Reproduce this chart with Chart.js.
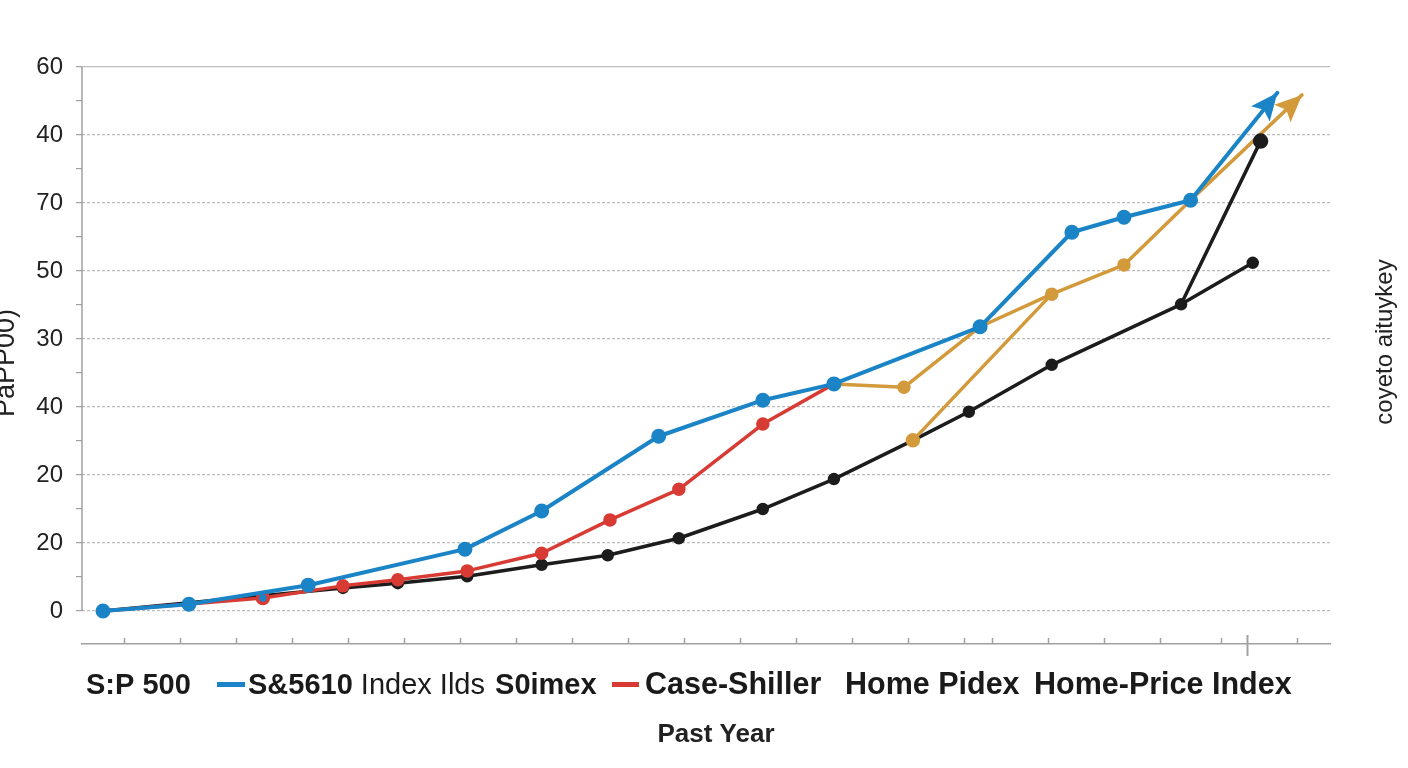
<!DOCTYPE html>
<html>
<head>
<title>Home price index vs S&amp;P 500</title>
<script src="https://cdn.jsdelivr.net/npm/chart.js"></script>
<style>
  body { margin: 0; background: #fff; }
  #wrap { width: 1408px; height: 768px; position: relative; }
</style>
</head>
<body>
<div id="wrap"><canvas id="myChart"></canvas></div>
<script>
// tick labels of the y axis, from bottom (0) to top (8)
const yTickLabels = ['0', '20', '20', '40', '30', '50', '70', '40', '60'];
// small tick marks along the bottom axis
const xTickValues = [1, 2, 3, 4, 5, 6, 7, 8, 9, 10, 11, 12, 13, 14, 15, 16, 16.5, 17.5, 18.5, 19.5, 20.6, 21.05, 21.95];
const xLongTick = 21.05;

// S&P 500 (blue)
const sp500X = [0.625, 2.16, 4.29, 7.09, 8.46, 10.55, 12.41, 13.68, 16.29, 17.93, 18.86, 20.05, 21.6];
const sp500Y = [0, 0.10, 0.38, 0.91, 1.47, 2.57, 3.10, 3.34, 4.18, 5.57, 5.79, 6.04, 7.62];

// Case-Shiller (red)
const caseShillerX = [0.625, 3.48, 4.91, 5.89, 7.13, 8.46, 9.68, 10.91, 12.41, 13.68];
const caseShillerY = [0, 0.19, 0.37, 0.46, 0.59, 0.85, 1.34, 1.79, 2.75, 3.34];

// Home Pidex (black) + its spike
const homePidexX = [0.625, 4.91, 5.89, 7.13, 8.46, 9.64, 10.91, 12.41, 13.68, 15.09, 16.09, 17.57, 19.88, 21.16];
const homePidexY = [0, 0.34, 0.41, 0.51, 0.68, 0.82, 1.07, 1.50, 1.94, 2.51, 2.93, 3.62, 4.51, 5.12];
const pidexSpikeX = [19.88, 21.30];
const pidexSpikeY = [4.51, 6.91];

// Home-Price Index (gold) + its branch
const homePriceX = [13.68, 14.93, 16.29, 17.57, 18.86, 20.05, 22.04];
const homePriceY = [3.34, 3.29, 4.18, 4.66, 5.09, 6.04, 7.59];
const priceBranchX = [15.09, 17.57];
const priceBranchY = [2.51, 4.66];

const legendLabels = ['S:P 500', 'S&5610', 'Index Ilds', 'S0imex', 'Case-Shiller', 'Home Pidex', 'Home-Price Index'];
const xTitle = 'Past Year';
const yTitleLeft = 'PaPP00)';
const yTitleRight = 'coyeto aituykey';

const BLUE = '#1b84c6', RED = '#d83b34', BLACK = '#1c1c1c', GOLD = '#d39a3c';
const FONT = '"Liberation Sans", Arial, sans-serif';

function pts(xs, ys) {
  return xs.map((x, i) => ({ x: x, y: ys[i] }));
}

// draws arrowheads, the left axis, the inside ticks, the legend and side titles
const decorPlugin = {
  id: 'decor',
  beforeDatasetsDraw(chart) {
    const ctx = chart.ctx;
    const area = chart.chartArea;
    const xs = chart.scales.x, ys = chart.scales.y;
    ctx.save();
    ctx.strokeStyle = '#a0a0a0';
    ctx.lineWidth = 1.5;
    ctx.beginPath();
    ctx.moveTo(area.left, ys.getPixelForValue(8));
    ctx.lineTo(area.left, ys.getPixelForValue(0));
    ctx.stroke();
    xTickValues.forEach(v => {
      const px = Math.round(xs.getPixelForValue(v)) + 0.5;
      ctx.beginPath();
      if (v === xLongTick) {
        ctx.lineWidth = 2;
        ctx.moveTo(px, area.bottom - 9);
        ctx.lineTo(px, area.bottom + 12);
      } else {
        ctx.lineWidth = 1.5;
        ctx.moveTo(px, area.bottom - 6);
        ctx.lineTo(px, area.bottom);
      }
      ctx.stroke();
    });
    ctx.restore();
  },
  afterDatasetsDraw(chart) {
    const ctx = chart.ctx;
    chart.data.datasets.forEach((ds, i) => {
      if (!ds.arrow) return;
      const d = chart.getDatasetMeta(i).data;
      const a = d[d.length - 2], b = d[d.length - 1];
      const ang = Math.atan2(b.y - a.y, b.x - a.x);
      const len = 27, half = 12;
      ctx.save();
      ctx.translate(b.x, b.y);
      ctx.rotate(ang);
      ctx.fillStyle = ds.borderColor;
      ctx.beginPath();
      ctx.moveTo(0, 0);
      ctx.lineTo(-len, -half);
      ctx.lineTo(-len * 0.8, 0);
      ctx.lineTo(-len, half);
      ctx.closePath();
      ctx.fill();
      ctx.restore();
    });
  },
  afterDraw(chart) {
    const ctx = chart.ctx;
    ctx.save();
    ctx.fillStyle = '#1a1a1a';
    ctx.textBaseline = 'alphabetic';
    ctx.textAlign = 'left';
    const base = 694;
    const bold = 'bold 29px ' + FONT, reg = '29px ' + FONT;
    const bold2 = 'bold 30.5px ' + FONT;

    ctx.font = bold;
    ctx.fillText(legendLabels[0], 86, base);

    ctx.fillStyle = BLUE;
    ctx.fillRect(217, 682, 28, 5);
    ctx.fillStyle = '#1a1a1a';
    let x = 248;
    ctx.font = bold;
    ctx.fillText(legendLabels[1], x, base);
    x += ctx.measureText(legendLabels[1] + ' ').width;
    ctx.font = reg;
    ctx.fillText(legendLabels[2], x, base);
    x += ctx.measureText(legendLabels[2] + ' ').width;
    ctx.font = bold;
    ctx.fillText(legendLabels[3], x + 2, base);

    ctx.fillStyle = RED;
    ctx.fillRect(612, 682, 27, 5);
    ctx.fillStyle = '#1a1a1a';
    ctx.font = bold2;
    ctx.fillText(legendLabels[4], 645, base);
    ctx.fillText(legendLabels[5], 845, base);
    ctx.fillText(legendLabels[6], 1034, base);

    // x title
    ctx.font = 'bold 26px ' + FONT;
    ctx.fillStyle = '#222';
    ctx.textAlign = 'center';
    ctx.fillText(xTitle, 716, 742);

    // left title, clipped by the page edge
    ctx.save();
    ctx.translate(14, 363);
    ctx.rotate(-Math.PI / 2);
    ctx.font = '27px ' + FONT;
    ctx.fillText(yTitleLeft, 0, 0);
    ctx.restore();

    // right title
    ctx.save();
    ctx.translate(1392, 342);
    ctx.rotate(-Math.PI / 2);
    ctx.font = '24px ' + FONT;
    ctx.fillText(yTitleRight, 0, 0);
    ctx.restore();
    ctx.restore();
  }
};

const ctx = document.getElementById('myChart').getContext('2d');
const chart = new Chart(ctx, {
  type: 'line',
  data: {
    datasets: [
      {
        label: 'S&P 500',
        data: pts(sp500X, sp500Y),
        borderColor: BLUE, backgroundColor: BLUE, borderWidth: 4,
        pointRadius: sp500X.map((v, i) => i === sp500X.length - 1 ? 0 : 5.5),
        arrow: true
      },
      {
        label: 'Home Pidex spike',
        data: pts(pidexSpikeX, pidexSpikeY),
        borderColor: BLACK, backgroundColor: BLACK, borderWidth: 3.5,
        pointRadius: [0, 6]
      },
      {
        label: 'Home-Price Index',
        data: pts(homePriceX, homePriceY),
        borderColor: GOLD, backgroundColor: GOLD, borderWidth: 3.5,
        pointRadius: [0, 5, 0, 5, 5, 0, 0],
        arrow: true
      },
      {
        label: 'Home-Price branch',
        data: pts(priceBranchX, priceBranchY),
        borderColor: GOLD, backgroundColor: GOLD, borderWidth: 3.5,
        pointRadius: [5.5, 0]
      },
      {
        label: 'Case-Shiller',
        data: pts(caseShillerX, caseShillerY),
        borderColor: RED, borderWidth: 3.5,
        backgroundColor: caseShillerX.map((v, i) => i === 1 ? BLUE : RED),
        pointRadius: caseShillerX.map((v, i) => i === 0 ? 0 : (i === 1 ? 5.5 : 5))
      },
      {
        label: 'Home Pidex',
        data: pts(homePidexX, homePidexY),
        borderColor: BLACK, backgroundColor: BLACK, borderWidth: 3.5,
        pointRadius: homePidexX.map((v, i) => i === 0 ? 0 : 4.5)
      }
    ]
  },
  options: {
    responsive: true,
    maintainAspectRatio: false,
    animation: false,
    elements: {
      line: { tension: 0, borderCapStyle: 'round', borderJoinStyle: 'round' },
      point: { borderWidth: 0, hoverRadius: 0 }
    },
    layout: { padding: { top: 67, right: 78, bottom: 124, left: 0 } },
    plugins: { legend: { display: false }, tooltip: { enabled: false } },
    scales: {
      x: {
        type: 'linear', min: 0.25, max: 22.54,
        ticks: { display: false },
        grid: { display: false, drawTicks: false },
        border: { display: true, color: '#a0a0a0', width: 1.5 },
        afterFit: s => { s.height = 0; }
      },
      y: {
        min: -0.485, max: 8,
        afterBuildTicks: s => {
          const t = [];
          for (let v = 0; v <= 8; v += 0.5) t.push({ value: v });
          s.ticks = t;
        },
        afterFit: s => { s.width = 82; },
        ticks: {
          autoSkip: false,
          padding: 13,
          color: '#222',
          font: { family: FONT, size: 24 },
          callback: v => Number.isInteger(v) ? yTickLabels[v] : ''
        },
        grid: {
          color: c => (c.tick && Number.isInteger(c.tick.value)) ? '#bdbdbd' : 'rgba(0,0,0,0)',
          tickColor: '#a0a0a0',
          tickLength: 6,
          lineWidth: 1.2
        },
        border: {
          display: false,
          dash: c => (c.tick && c.tick.value === 8) ? [] : [3, 2]
        }
      }
    }
  },
  plugins: [decorPlugin]
});
</script>
</body>
</html>
